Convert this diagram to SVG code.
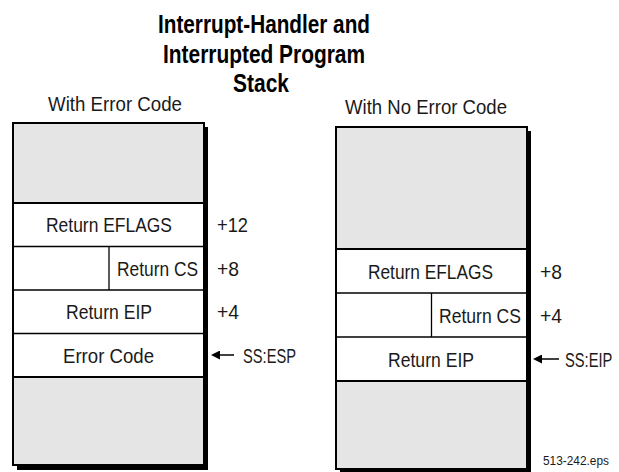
<svg xmlns="http://www.w3.org/2000/svg" width="619" height="472" viewBox="0 0 619 472">
  <style>
    .t { font-family: "Liberation Sans", Arial, sans-serif; font-size: 21px; fill: #1a1a1a; }
    .mid { text-anchor: middle; }
    .title { font-family: "Liberation Sans", Arial, sans-serif; font-size: 25px; font-weight: bold; fill: #000; text-anchor: middle; }
    .gray { fill: #e5e5e5; }
    .thin { stroke: #000; stroke-width: 1.3; fill: none; }
    .thick { stroke: #000; stroke-width: 2; fill: none; }
    .shadow { fill: #000; }
    .small { font-family: "Liberation Sans", Arial, sans-serif; font-size: 12px; fill: #1a1a1a; }
    .conn { stroke: #000; stroke-width: 1.5; fill: none; }
  </style>
  <defs>
    <marker id="ah" viewBox="0 0 10 10" refX="0" refY="5" markerWidth="10" markerHeight="9" markerUnits="userSpaceOnUse" orient="auto">
      <path d="M0,0 L10,5 L0,10 Z" fill="#000"/>
    </marker>
  </defs>
  <rect width="619" height="472" fill="#fff"/>

  <g id="title">
    <text class="title" x="264" y="33" textLength="212" lengthAdjust="spacingAndGlyphs">Interrupt-Handler and</text>
    <text class="title" x="264" y="62.5" textLength="202" lengthAdjust="spacingAndGlyphs">Interrupted Program</text>
    <text class="title" x="261" y="92" textLength="56" lengthAdjust="spacingAndGlyphs">Stack</text>
  </g>

  <g id="stack-error-code">
    <text class="t mid" x="115" y="111" textLength="134" lengthAdjust="spacingAndGlyphs">With Error Code</text>
    <rect class="shadow" x="17" y="127" width="191" height="343"/>
    <rect x="13" y="123" width="191" height="342" fill="#fff"/>
    <rect class="gray" x="13" y="123" width="191" height="80"/>
    <rect class="gray" x="13" y="377" width="191" height="88"/>
    <line class="thick" x1="13" y1="203" x2="204" y2="203"/>
    <line class="thin" x1="13" y1="246.5" x2="204" y2="246.5"/>
    <line class="thin" x1="13" y1="290" x2="204" y2="290"/>
    <line class="thin" x1="13" y1="333.5" x2="204" y2="333.5"/>
    <line class="thick" x1="13" y1="377" x2="204" y2="377"/>
    <line class="thin" x1="109" y1="246.5" x2="109" y2="290"/>
    <rect class="thick" x="13" y="123" width="191" height="342"/>
    <g id="l-eflags"><text class="t mid" x="109" y="232" textLength="126" lengthAdjust="spacingAndGlyphs">Return EFLAGS</text></g>
    <g id="l-cs"><text class="t mid" x="157.5" y="275.5" textLength="81" lengthAdjust="spacingAndGlyphs">Return CS</text></g>
    <g id="l-eip"><text class="t mid" x="109" y="319" textLength="86" lengthAdjust="spacingAndGlyphs">Return EIP</text></g>
    <g id="l-err"><text class="t mid" x="108.5" y="362.5" textLength="91" lengthAdjust="spacingAndGlyphs">Error Code</text></g>
    <text class="t" x="217" y="232" textLength="31" lengthAdjust="spacingAndGlyphs">+12</text>
    <text class="t" x="217" y="275.5" textLength="22" lengthAdjust="spacingAndGlyphs">+8</text>
    <text class="t" x="217" y="319" textLength="22" lengthAdjust="spacingAndGlyphs">+4</text>
    <text class="t" x="243" y="362.5" textLength="53" lengthAdjust="spacingAndGlyphs">SS:ESP</text>
  </g>

  <g id="stack-no-error-code">
    <text class="t mid" x="426" y="113.5" textLength="162" lengthAdjust="spacingAndGlyphs">With No Error Code</text>
    <rect class="shadow" x="340" y="131" width="191" height="343"/>
    <rect x="336" y="127" width="191" height="342" fill="#fff"/>
    <rect class="gray" x="336" y="127" width="191" height="122"/>
    <rect class="gray" x="336" y="381" width="191" height="88"/>
    <line class="thick" x1="336" y1="249" x2="527" y2="249"/>
    <line class="thin" x1="336" y1="293" x2="527" y2="293"/>
    <line class="thin" x1="336" y1="337" x2="527" y2="337"/>
    <line class="thick" x1="336" y1="381" x2="527" y2="381"/>
    <line class="thin" x1="431.5" y1="293" x2="431.5" y2="337"/>
    <rect class="thick" x="336" y="127" width="191" height="342"/>
    <g id="r-eflags"><text class="t mid" x="430.5" y="278.5" textLength="125" lengthAdjust="spacingAndGlyphs">Return EFLAGS</text></g>
    <g id="r-cs"><text class="t mid" x="480" y="322.5" textLength="82" lengthAdjust="spacingAndGlyphs">Return CS</text></g>
    <g id="r-eip"><text class="t mid" x="431" y="366.5" textLength="86" lengthAdjust="spacingAndGlyphs">Return EIP</text></g>
    <text class="t" x="540" y="278.5" textLength="22" lengthAdjust="spacingAndGlyphs">+8</text>
    <text class="t" x="540" y="322.5" textLength="22" lengthAdjust="spacingAndGlyphs">+4</text>
    <text class="t" transform="translate(565,366.5) scale(0.7,1)" x="0" y="0">SS:EIP</text>
  </g>

  <g id="connectors">
    <line class="conn" x1="234" y1="355" x2="220" y2="355" marker-end="url(#ah)"/>
    <line class="conn" x1="559" y1="359" x2="542" y2="359" marker-end="url(#ah)"/>
  </g>

  <text class="small" x="543" y="465" textLength="66" lengthAdjust="spacingAndGlyphs">513-242.eps</text>
</svg>
